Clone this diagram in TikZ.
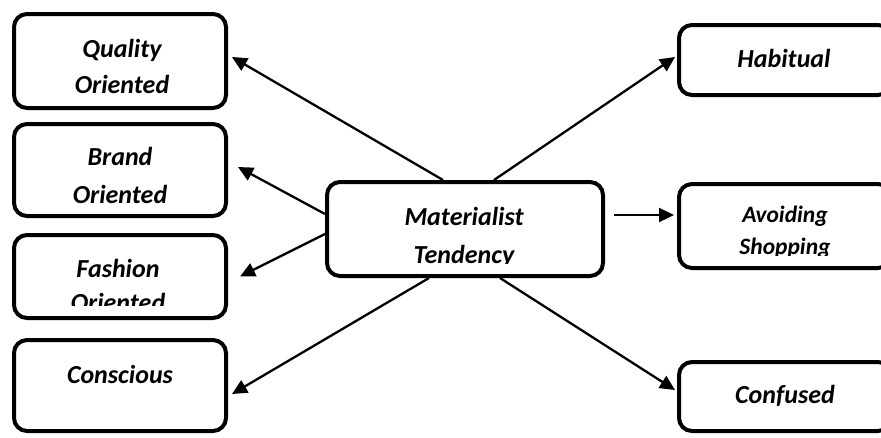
\documentclass[tikz,border=0pt]{standalone}
\usepackage{fontspec}
\setmainfont{Carlito}
\usetikzlibrary{arrows.meta,calc}
\tikzset{
  box/.style={draw=black,line width=4pt,rounded corners=13pt,inner sep=0pt,anchor=center},
  lbl/.style={anchor=base,inner sep=0pt,font=\fontsize{26}{30}\selectfont\bfseries\itshape},
  slbl/.style={lbl,font=\fontsize{23.5}{27}\selectfont\bfseries\itshape},
  arr/.style={line width=2.3pt,-{Triangle[length=15pt,width=14pt]}}
}
\begin{document}
\begin{tikzpicture}[x=1pt,y=-1pt]
\clip (0,0) rectangle (881,437);
\fill[white] (0,0) rectangle (881,437);
% boxes
\node[box,minimum width=212pt,minimum height=94pt] (q) at (120,61) {};
\node[box,minimum width=212pt,minimum height=92pt] (b) at (120,170) {};
\node[box,minimum width=212pt,minimum height=83pt] (f) at (120,276.5) {};
\node[box,minimum width=212pt,minimum height=91pt] (c) at (120,385.5) {};
\node[box,minimum width=276pt,minimum height=94pt] (m) at (465,229) {};
\node[box,minimum width=212pt,minimum height=70pt] (h) at (785,60) {};
\node[box,minimum width=212pt,minimum height=84pt] (a) at (785,226) {};
\node[box,minimum width=212pt,minimum height=69pt] (cf) at (785,396.5) {};
% texts
\begin{scope}
\clip (q.north west) rectangle ($(q.south east)+(0,-15)$);
\node[lbl] (q1) at (122,57) {Quality};
\node[lbl] (q2) at (122,93) {Oriented};
\end{scope}
\begin{scope}
\clip (b.north west) rectangle ($(b.south east)+(0,-15)$);
\node[lbl] (b1) at (120,165) {Brand};
\node[lbl] (b2) at (120,203) {Oriented};
\end{scope}
\begin{scope}
\clip (f.north west) rectangle ($(f.south east)+(0,-15)$);
\node[lbl] (f1) at (118,277) {Fashion};
\node[lbl] (f2) at (118,311) {Oriented};
\end{scope}
\node[lbl] (c1) at (120,383) {Conscious};
\begin{scope}
\clip (m.north west) rectangle ($(m.south east)+(0,-15)$);
\node[lbl] (m1) at (464,225) {Materialist};
\node[lbl] (m2) at (464,263) {Tendency};
\end{scope}
\node[lbl] (h1) at (784,67) {Habitual};
\begin{scope}
\clip (a.north west) rectangle ($(a.south east)+(0,-15)$);
\node[slbl] (a1) at (785,222) {Avoiding};
\node[slbl] (a2) at (785,254) {Shopping};
\end{scope}
\node[lbl] (cf1) at (785,403) {Confused};
% connectors
\draw[arr] ($(m.north west)+(118,0)$) -- ($(q.east)+(4,-4)$);
\draw[arr] ($(m.west)+(0,-15)$) -- ($(b.east)+(10,-3)$);
\draw[arr] ($(m.west)+(0,5)$) -- ($(f.east)+(12,0)$);
\draw[arr] ($(m.south west)+(104,0)$) -- ($(c.east)+(4,8.5)$);
\draw[arr] ($(m.north west)+(169,0)$) -- ($(h.west)+(-2,-3)$);
\draw[arr] ($(m.east)+(9,-14)$) -- ($(a.west)+(-3,-11)$);
\draw[arr] ($(m.south west)+(175,0)$) -- ($(cf.west)+(-2,-6.5)$);
\end{tikzpicture}
\end{document}
